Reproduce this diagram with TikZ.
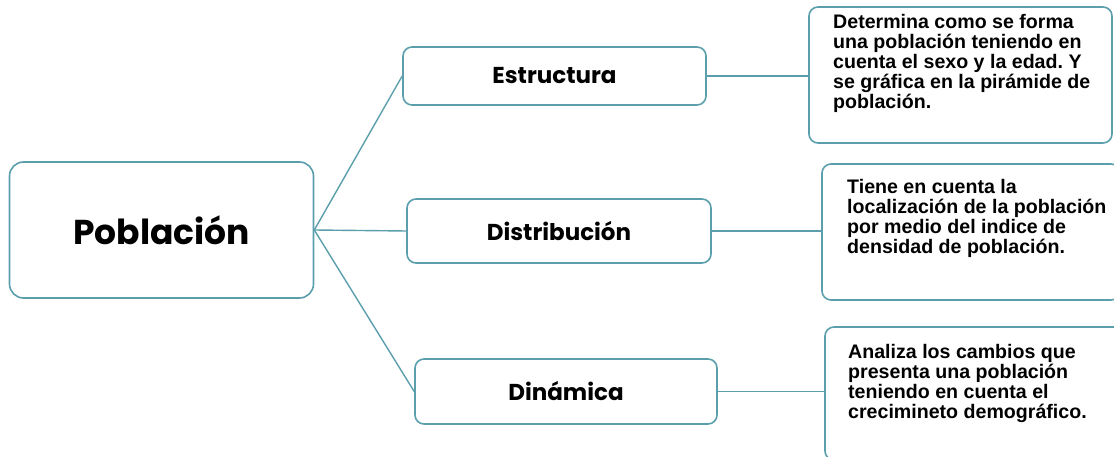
\documentclass[tikz,border=0pt]{standalone}
\usepackage{fontspec}
\usepackage{tikz}
\usetikzlibrary{positioning}
\newfontfamily\gothic{Poppins}
\newfontfamily\arial{Liberation Sans}
\definecolor{mapline}{HTML}{5B9FAD}
\frenchspacing
\tikzset{caja/.style = {draw=mapline, line width=1.6pt, rounded corners=9pt, fill=white}}
\tikzset{rama/.style = {draw=mapline, line width=1.4pt}}
\tikzset{tema/.style = {font=\gothic\bfseries\fontsize{23}{26}\selectfont}}
\tikzset{nota/.style = {font=\arial\bfseries\fontsize{19.6}{20}\selectfont, align=left, anchor=north west, inner sep=0pt}}

\begin{document}
\begin{tikzpicture}[x=1pt,y=-1pt]
		\useasboundingbox[fill=white] (0,0) rectangle (1114,457);
		%main box
		\node[caja, rounded corners=14pt, minimum width=304pt, minimum height=136pt, font=\gothic\bfseries\fontsize{34.5}{38}\selectfont](pob) at (161.5,230){Población};

		%middle boxes
		\node[caja, tema, minimum width=303pt, minimum height=58pt](est) at (554.5,76){Estructura};
		\node[caja, tema, minimum width=304pt, minimum height=64pt](dist) at (559,231){Distribución};
		\node[caja, tema, minimum width=302pt, minimum height=65pt](din) at (566,391.5){Dinámica};

		%right boxes
		\node[caja, minimum width=303pt, minimum height=136pt](b1) at (960.5,75){};
		\node[caja, minimum width=298pt, minimum height=136pt](b2) at (971,232){};
		\node[caja, minimum width=300pt, minimum height=133pt](b3) at (975,393.5){};

		\node[nota](t1) at (833,14){Determina como se forma\\una población teniendo en\\cuenta el sexo y la edad. Y\\se gráfica en la pirámide de\\población.};
		\node[nota](t2) at (847,179){Tiene en cuenta la\\localización de la población\\por medio del indice de\\densidad de población.};
		\node[nota](t3) at (848,344){Analiza los cambios que\\presenta una población\\teniendo en cuenta el\\crecimineto demográfico.};

		%connectors
		\draw[rama] (pob.east) -- (est.west);
		\draw[rama] (pob.east) -- (dist.west);
		\draw[rama] (pob.east) -- (din.west);
		\draw[rama] (est.east) -- (est.east -| b1.west);
		\draw[rama] (dist.east) -- (dist.east -| b2.west);
		\draw[rama] (din.east) -- (din.east -| b3.west);
\end{tikzpicture}
\end{document}
